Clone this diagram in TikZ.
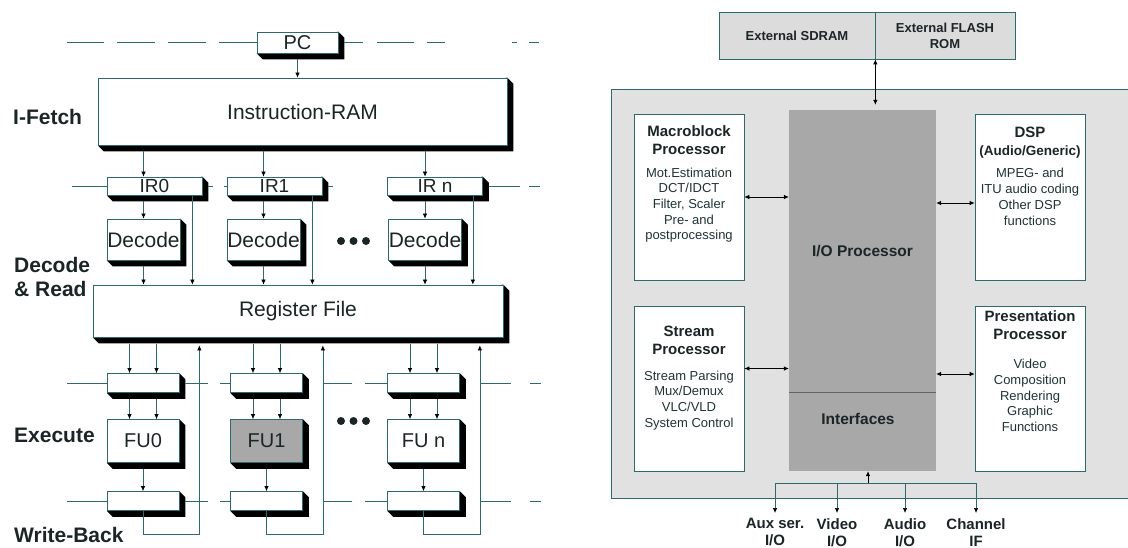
\documentclass[tikz,border=0pt]{standalone}
\usepackage{fontspec}
\setmainfont{Liberation Sans}
\usepackage{tikz}
\usetikzlibrary{arrows.meta,positioning,backgrounds}
\definecolor{cputeal}{HTML}{2E6A6C}
\definecolor{cpuink}{HTML}{1C2526}
\definecolor{cpulight}{HTML}{E1E1E1}
\definecolor{cpumid}{HTML}{A8A8A8}
\definecolor{cpuext}{HTML}{DCDCDC}
\tikzset{
  blk/.style={draw=cputeal,fill=white,line width=0.7pt,inner sep=0pt,text=cpuink},
  big/.style={blk,font=\fontsize{21}{24}\selectfont},
  ireg/.style={blk,minimum width=95pt,minimum height=18pt,font=\fontsize{19}{22}\selectfont},
  dec/.style={blk,minimum width=73pt,minimum height=41pt,font=\fontsize{21}{24}\selectfont},
  preg/.style={blk,minimum width=72pt,minimum height=19pt},
  fu/.style={blk,minimum width=72pt,minimum height=43pt,font=\fontsize{20}{24}\selectfont},
  stage/.style={anchor=west,align=left,inner sep=0pt,text=cpuink,font=\bfseries\fontsize{21}{24}\selectfont},
  ar/.style={-{Latex[length=5pt,width=4.5pt,color=black]},draw=cputeal,line width=0.7pt},
  biar/.style={{Latex[length=5pt,width=4.5pt]}-{Latex[length=5pt,width=4.5pt]},draw=black,line width=0.7pt},
  latch/.style={draw=cputeal,line width=0.7pt},
  chip/.style={draw=cputeal,fill=cpulight,line width=0.8pt,inner sep=0pt},
  ext/.style={draw=cputeal,fill=cpuext,line width=0.7pt,inner sep=0pt,align=center,text=cpuink,
    font=\bfseries\fontsize{13}{16}\selectfont},
  iobox/.style={fill=cpumid,inner sep=0pt,text=cpuink,font=\bfseries\fontsize{15.5}{18}\selectfont},
  unit/.style={draw=cputeal,fill=white,line width=0.7pt,inner sep=0pt,minimum width=110pt,minimum height=166pt},
  utitle/.style={align=center,inner sep=0pt,text=cpuink,font=\bfseries\fontsize{15}{18}\selectfont},
  ubody/.style={align=center,inner sep=0pt,text=cpuink!80!cputeal,font=\fontsize{13}{15.7}\selectfont},
  port/.style={align=center,inner sep=0pt,text=cpuink,font=\bfseries\fontsize{15}{17}\selectfont},
}
\begin{document}
\begin{tikzpicture}[x=1pt,y=-1pt]
  \useasboundingbox (0,0) rectangle (1128,548);
  \clip (0,0) rectangle (1128,548);

  % pipeline stages
  \node[stage] (lfetch) at (13,117) {I-Fetch};
  \node[stage] (ldec) at (14,277) {Decode\\\& Read};
  \node[stage] (lexe) at (14,435) {Execute};
  \node[stage] (lwb) at (14,535) {Write-Back};

  % fetch
  \node[big,minimum width=81pt,minimum height=21pt,font=\fontsize{20}{24}\selectfont] (pc) at (297.5,42.5) {PC};
  \node[big,minimum width=409pt,minimum height=67pt] (ram) at (302.5,111.5) {Instruction-RAM};
  \draw[ar,shorten <=6pt] (pc.south) -- (pc.south |- ram.north);
  \draw[latch,dash pattern=on 38pt off 13pt] (pc.west) -- ++(-190,0);
  \draw[latch,dash pattern=on 19pt off 14pt on 37pt off 13pt on 18pt off 67pt on 5pt off 12pt on 11pt]
    ([xshift=6pt]pc.east) -- ++(195,0);

  % instruction registers and decoders
  \foreach \c/\ix/\dx/\t in {0/154.5/143.5/IR0,1/274.5/263.5/IR1,n/435/425/IR n}{
    \node[ireg] (ir\c) at (\ix,186) {\t};
    \node[dec] (dec\c) at (\dx,239.5) {Decode};
  }
  \node[big,minimum width=410pt,minimum height=52pt] (rf) at (298,311) {Register File};
  \foreach \c in {0,1,n}{
    \draw[ar,shorten <=6pt] (ram.south -| dec\c) -- (ir\c.north -| dec\c);
    \draw[ar,shorten <=6pt] (ir\c.south -| dec\c) -- (dec\c.north);
    \draw[ar,shorten <=6pt] (dec\c.south) -- (dec\c.south |- rf.north);
    \coordinate (byp\c) at ([xshift=-10pt]ir\c.south east);
    \draw[ar] (byp\c) -- (byp\c |- rf.north);
  }
  \draw[latch] (ir0.west) -- ++(-35,0);
  \draw[latch] ([xshift=6pt]ir0.east) -- ++(5,0);
  \draw[latch] (ir1.west) -- ++(-3,0);
  \draw[latch] ([xshift=6pt]ir1.east) -- ++(5,0);
  \draw[latch] ([xshift=6pt]irn.east) -- ++(31,0) ++(9,0) -- ++(11,0);

  % execute and write-back
  \foreach \c/\x/\t/\fc in {0/143/FU0/white,1/266.5/FU1/cpumid,n/423.5/FU n/white}{
    \node[preg] (pa\c) at (\x,383) {};
    \node[fu,fill=\fc] (fu\c) at (\x,441) {\t};
    \node[preg] (pb\c) at (\x,501) {};
    \foreach \s in {-13.5,13.5}{
      \coordinate (tap) at ([xshift=\s pt]pa\c.north);
      \draw[ar,shorten <=7pt] (tap |- rf.south) -- (tap);
      \draw[ar,shorten <=6pt] (tap |- pa\c.south) -- (tap |- fu\c.north);
    }
    \draw[ar,shorten <=6pt] (fu\c.south) -- (pb\c.north);
    \coordinate (fb\c) at ([xshift=20pt]pb\c.east);
    \draw[ar,shorten >=8pt] (pb\c.south) -- ++(0,23.5) -| (fb\c |- rf.south);
  }
  \foreach \r in {pa,pb}{
    \draw[latch] (\r0.west) -- ++(-40,0);
    \draw[latch] ([xshift=6pt]\r0.east) -- ++(23,0);
    \draw[latch] (\r1.west) -- ++(-10,0);
    \draw[latch] (\r1.east -| fb1) -- ++(29,0);
    \draw[latch] (\r n.west) -- ++(-22,0);
    \draw[latch] (\r n.east -| fbn) -- ++(31,0) ++(19,0) -- ++(11,0);
  }
  \foreach \yy in {241,421}
    \foreach \k in {0,1,2}
      \fill[cpuink] (341+12.5*\k,\yy) circle (4pt);

  % solid 3D shadows behind the pipeline boxes
  \begin{pgfonlayer}{background}
    \foreach \n in {pc,ram,ir0,ir1,irn,dec0,dec1,decn,rf,pa0,pa1,pan,fu0,fu1,fun,pb0,pb1,pbn}
      \fill[black] (\n.north east) -- ++(6pt,-6pt) |- ([shift={(6pt,-6pt)}]\n.south west)
        -- (\n.south west) -- cycle;
  \end{pgfonlayer}

  % media processor
  \node[chip,minimum width=524pt,minimum height=409pt] (chip) at (873,293.5) {};
  \node[ext,minimum width=156pt,minimum height=47pt] (sdram) at (797,35.5) {External SDRAM};
  \node[ext,minimum width=140pt,minimum height=47pt] (flash) at (945,35.5) {External FLASH\\ROM};
  \node[iobox,minimum width=147pt,minimum height=282pt] (iop) at (862.5,251) {I/O Processor};
  \node[iobox,minimum width=147pt,minimum height=79pt] (intf) at (862.5,431.5) {};
  \draw[cpumid!60!black,line width=0.8pt] (iop.south west) -- (iop.south east);
  \node[iobox,fill=none] (intft) at (858,419) {Interfaces};
  \draw[biar,shorten >=5pt] (sdram.south east) -- (sdram.south east |- iop.north);

  \node[unit] (mbp) at (689,197) {};
  \node[utitle,below=12pt of mbp.north] (mbpt) {Macroblock\\Processor};
  \node[ubody,below=12.5pt of mbpt] (mbpb) {Mot.Estimation\\DCT/IDCT\\Filter, Scaler\\Pre- and\\postprocessing};

  \node[unit] (dsp) at (1030,197) {};
  \node[utitle,below=13pt of dsp.north] (dspt) {DSP\\{\fontsize{13.5}{18}\selectfont(Audio/Generic)}};
  \node[ubody,below=10pt of dspt] (dspb) {MPEG- and\\ITU audio coding\\Other DSP\\functions};

  \node[unit,minimum height=165pt] (strp) at (689,388.5) {};
  \node[utitle,below=20pt of strp.north] (strpt) {Stream\\Processor};
  \node[ubody,below=16pt of strpt] (strpb) {Stream Parsing\\Mux/Demux\\VLC/VLD\\System Control};

  \node[unit,minimum height=165pt] (pres) at (1030,388.5) {};
  \node[utitle,below=5pt of pres.north] (prest) {Presentation\\Processor};
  \node[ubody,below=19pt of prest] (presb) {Video\\Composition\\Rendering\\Graphic\\Functions};

  \draw[biar] (mbp.east) -- (mbp.east -| iop.west);
  \draw[biar] ([yshift=-6pt]dsp.west) -- ([yshift=-6pt]dsp.west -| iop.east);
  \draw[biar] ([yshift=20pt]strp.east) -- ([yshift=20pt]strp.east -| iop.west);
  \draw[biar] ([yshift=14.5pt]pres.west) -- ([yshift=14.5pt]pres.west -| iop.east);

  % external ports
  \node[port,anchor=north] (aux) at (775,518) {Aux ser.\\I/O};
  \node[port,anchor=north] (vid) at (837,518) {Video\\I/O};
  \node[port,anchor=north] (aud) at (905,518) {Audio\\I/O};
  \node[port,anchor=north] (chan) at (976,518) {Channel\\IF};
  \coordinate (bus) at (868,483);
  \draw[ar,-{Latex[length=5pt,width=4.5pt]},draw=black] (bus) -- (intf.south -| bus);
  \draw[latch] (aux.north |- bus) -- (chan.north |- bus);
  \foreach \n in {aux,vid,aud,chan}
    \draw[ar,shorten >=5pt] (\n.north |- bus) -- (\n.north);
\end{tikzpicture}
\end{document}
